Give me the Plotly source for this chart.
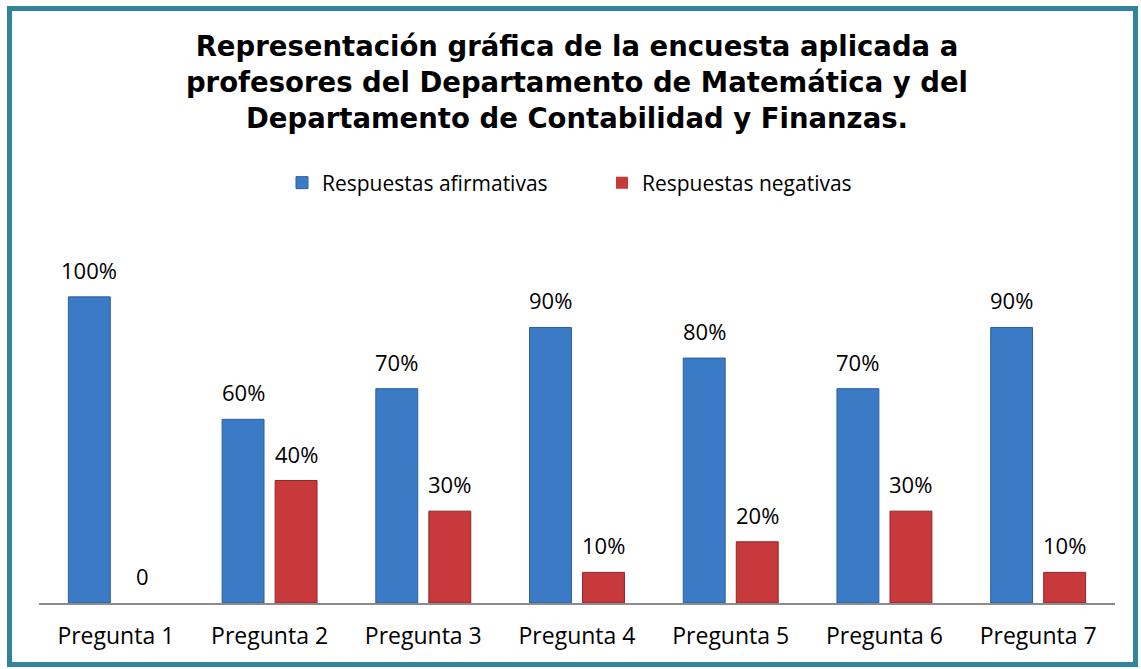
import plotly.graph_objects as go

categories = ["Pregunta 1", "Pregunta 2", "Pregunta 3", "Pregunta 4", "Pregunta 5", "Pregunta 6", "Pregunta 7"]
afirmativas = [100, 60, 70, 90, 80, 70, 90]
negativas = [0, 40, 30, 10, 20, 30, 10]
series_names = ["Respuestas afirmativas", "Respuestas negativas"]
title_text = ("Representación gráfica de la encuesta aplicada a<br>"
              "profesores del Departamento de Matemática y del<br>"
              "Departamento de Contabilidad y Finanzas.")

def labels(vals):
    return [f"{v}%" if v else "0" for v in vals]

W, H = 1141, 669
ml, mr, mt, mb = 39, 26, 254, 66
pw, ph = W - ml - mr, H - mt - mb
BODY_FONT = "Open Sans"

def px(x):
    return (x - ml) / pw

def py(y):
    return (H - mb - y) / ph

fig = go.Figure()
fig.add_trace(go.Bar(
    x=categories, y=[v / 100 for v in afirmativas], name=series_names[0],
    marker=dict(color="#3B7BC6",
                line=dict(color="#2B5E9E", width=[1 if v else 0 for v in afirmativas])),
))
fig.add_trace(go.Bar(
    x=categories, y=[v / 100 for v in negativas], name=series_names[1],
    marker=dict(color="#C7393A",
                line=dict(color="#8E2627", width=[1 if v else 0 for v in negativas])),
))

bargap, bargroupgap = 0.31, 0.21
slot_shift = (1 - bargap) / 4 * pw / len(categories)

annotations = []
for vals, sign in ((afirmativas, -1), (negativas, 1)):
    for cat, v, t in zip(categories, vals, labels(vals)):
        annotations.append(dict(
            x=cat, y=v / 100, xref="x", yref="y", text=t, showarrow=False,
            xshift=sign * slot_shift, yshift=27, yanchor="middle",
            font=dict(family=BODY_FONT, size=22, color="#000000"),
        ))

fig.update_layout(
    width=W, height=H,
    margin=dict(l=ml, r=mr, t=mt, b=mb, pad=0),
    paper_bgcolor="white", plot_bgcolor="white",
    barmode="group", bargap=bargap, bargroupgap=bargroupgap,
    title=dict(text=title_text, x=0.5, xanchor="center", xref="paper",
               yref="container", y=1 - 56 / H, yanchor="top",
               font=dict(family="DejaVu Sans", size=27.5, color="#000000", weight="bold")),
    legend=dict(orientation="h", x=px(602), xanchor="center", xref="paper",
                y=py(183), yanchor="middle",
                font=dict(family=BODY_FONT, size=21, color="#000000"),
                traceorder="normal", itemwidth=30, entrywidth=275),
    showlegend=True,
    xaxis=dict(showline=True, linecolor="#8C8C8C", linewidth=1.5, ticks="",
               tickfont=dict(family=BODY_FONT, size=23, color="#000000"),
               ticklabelstandoff=12, showgrid=False, zeroline=False),
    yaxis=dict(range=[0, 1.14], visible=False, showgrid=False, zeroline=False),
    annotations=annotations,
)

fig.add_shape(type="rect", xref="paper", yref="paper",
              x0=px(9.5), x1=px(1135.5), y0=py(8.5), y1=py(664.5),
              line=dict(color="#31849B", width=5), fillcolor="rgba(0,0,0,0)", layer="above")

fig.write_html("out.html", config={"displayModeBar": False},
               post_script="document.body.style.margin='0';document.body.style.overflow='hidden';")
